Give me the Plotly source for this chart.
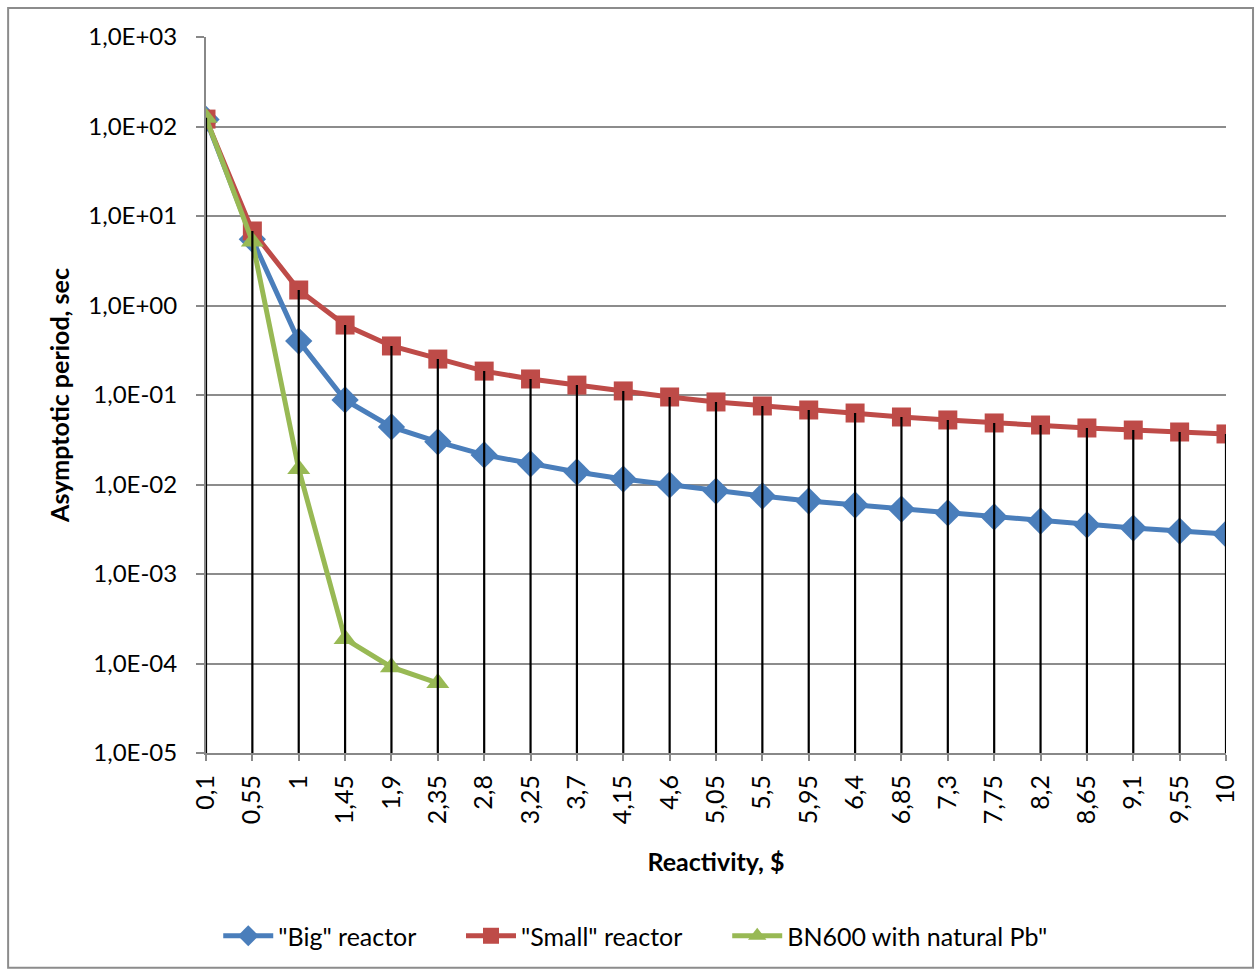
import plotly.graph_objects as go

categories = ["0,1", "0,55", "1", "1,45", "1,9", "2,35", "2,8", "3,25", "3,7", "4,15", "4,6",
              "5,05", "5,5", "5,95", "6,4", "6,85", "7,3", "7,75", "8,2", "8,65", "9,1", "9,55", "10"]

big_reactor = [120, 5.5, 0.40, 0.088, 0.044, 0.030, 0.0214, 0.0170, 0.0138, 0.0115, 0.0099,
               0.00845, 0.00744, 0.00654, 0.0059, 0.00532, 0.00481, 0.00434, 0.00391, 0.00353,
               0.00326, 0.00302, 0.0028]
small_reactor = [121, 6.8, 1.49, 0.605, 0.353, 0.252, 0.185, 0.151, 0.129, 0.111, 0.095,
                 0.0836, 0.0754, 0.068, 0.0629, 0.0568, 0.0526, 0.0487, 0.0462, 0.0428,
                 0.0406, 0.0386, 0.0367]
bn600 = [125, 5.2, 0.0149, 1.88e-4, 9.1e-5, 6.05e-5]

ytick_vals = [1e-5, 1e-4, 1e-3, 1e-2, 1e-1, 1e0, 1e1, 1e2, 1e3]
ytick_text = ["1,0E-05", "1,0E-04", "1,0E-03", "1,0E-02", "1,0E-01", "1,0E+00", "1,0E+01", "1,0E+02", "1,0E+03"]

FONT = "Lato"
FS = 25
idx = list(range(len(categories)))

# drop lines from the highest series value down to the axis
drop_x, drop_y = [], []
for i in idx:
    vals = [big_reactor[i], small_reactor[i]] + ([bn600[i]] if i < len(bn600) else [])
    drop_x += [i, i, None]
    drop_y += [max(vals), ytick_vals[0], None]

fig = go.Figure()
fig.add_trace(go.Scatter(x=idx, y=big_reactor, name='"Big" reactor', mode="lines+markers",
                         line=dict(color="#4A7EBB", width=5), legend="legend",
                         marker=dict(symbol="diamond", size=21, color="#4A7EBB")))
fig.add_trace(go.Scatter(x=idx, y=small_reactor, name='"Small" reactor', mode="lines+markers",
                         line=dict(color="#BE4B48", width=5), legend="legend2",
                         marker=dict(symbol="square", size=19, color="#BE4B48")))
fig.add_trace(go.Scatter(x=idx[:len(bn600)], y=bn600, name='BN600 with natural Pb"', mode="lines+markers",
                         line=dict(color="#98B954", width=5), legend="legend3",
                         marker=dict(symbol="triangle-up", size=20, color="#98B954")))
# drop lines drawn on top (they cross the markers in the reference)
fig.add_trace(go.Scatter(x=drop_x, y=drop_y, mode="lines", line=dict(color="black", width=2.2),
                         showlegend=False, hoverinfo="skip"))

def leg(x):
    return dict(orientation="h", x=x, xanchor="left", y=-0.2556, yanchor="middle",
                font=dict(family=FONT, size=FS), bgcolor="rgba(0,0,0,0)", itemwidth=50)

fig.update_layout(
    width=1255, height=973,
    margin=dict(l=206, r=29, t=37, b=220),
    paper_bgcolor="white", plot_bgcolor="white",
    font=dict(family=FONT, size=FS, color="black"),
    showlegend=True,
    legend=leg(0.012), legend2=leg(0.25), legend3=leg(0.511),
    xaxis=dict(
        range=[0, len(categories) - 1], automargin=False,
        tickmode="array", tickvals=idx, ticktext=categories, tickangle=-90,
        showgrid=False, zeroline=False,
        showline=True, linecolor="#888888", linewidth=2,
        ticks="outside", ticklen=6, tickcolor="#888888", tickwidth=1.5,
        tickfont=dict(family=FONT, size=FS), ticklabelstandoff=4,
        title=dict(text="<b>Reactivity, $</b>", font=dict(family=FONT, size=FS), standoff=30),
    ),
    yaxis=dict(
        type="log", range=[-5, 3], automargin=False,
        tickmode="array", tickvals=ytick_vals, ticktext=ytick_text,
        showgrid=True, gridcolor="#8C8C8C", gridwidth=2,
        showline=True, linecolor="#888888", linewidth=2,
        ticks="outside", ticklen=8, tickcolor="#888888", tickwidth=1.5,
        tickfont=dict(family=FONT, size=24), ticklabelstandoff=14,
        title=dict(text="<b>Asymptotic period, sec</b>", font=dict(family=FONT, size=FS), standoff=12),
    ),
    shapes=[dict(type="rect", xref="paper", yref="paper",
                 x0=-0.194, x1=1.0265, y0=-0.300, y1=1.0405,
                 line=dict(color="#8C8C8C", width=2), fillcolor="rgba(0,0,0,0)", layer="below")],
)

fig.write_html("out.html")
